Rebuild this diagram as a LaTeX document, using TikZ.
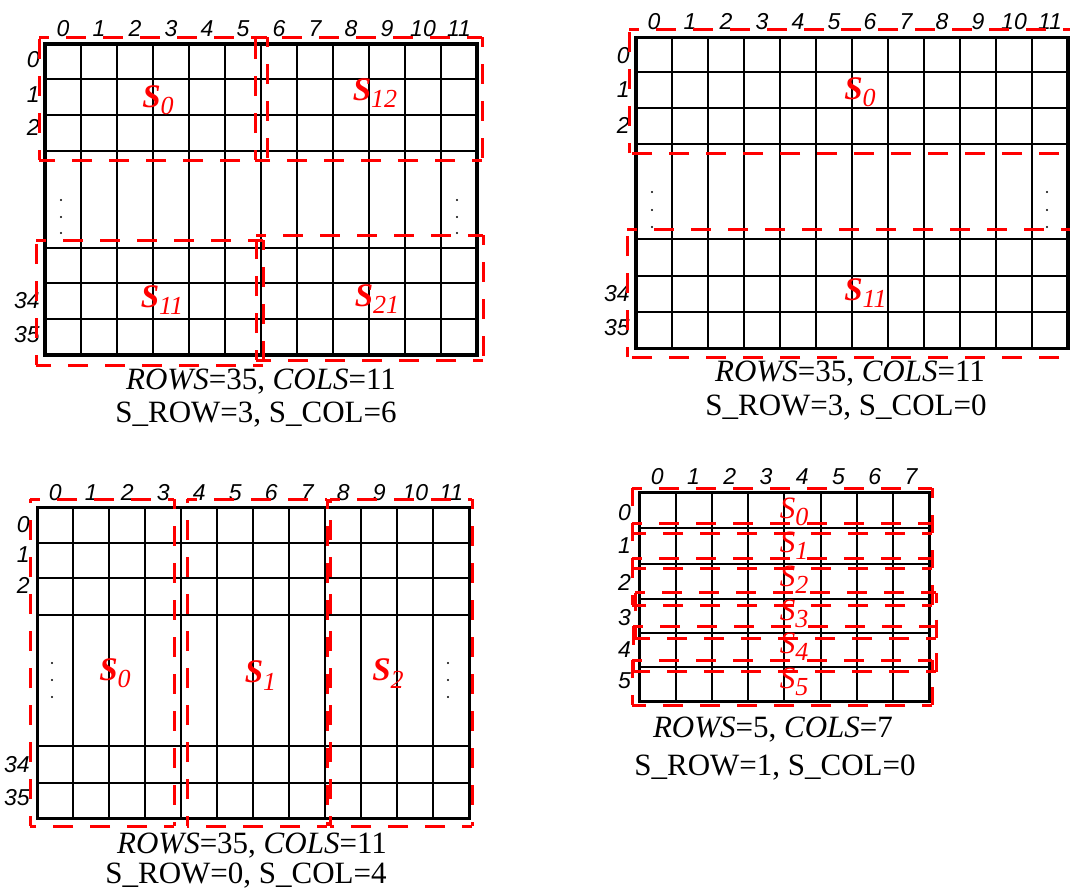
\documentclass[tikz,border=0pt]{standalone}
\usepackage{fontspec}
\setmainfont{Liberation Serif}
\newfontfamily\axisfont{Liberation Sans}
% block names: bold S (upper panels) and plain S (last panel)
\newcommand{\blkb}[1]{\textbf{\textit{S}}\raisebox{-3.8pt}{\fontsize{13}{13}\selectfont\textit{#1}}}
\newcommand{\blkr}[1]{\textit{S}\raisebox{-3.6pt}{\fontsize{13}{13}\selectfont\textit{#1}}}

\begin{document}
\begin{tikzpicture}[x=0.5pt, y=-0.5pt,
    cell/.style={line width=1pt},
    border/.style={line width=1.6pt},
    part/.style={red, line width=1.5pt, dash pattern=on 10pt off 8.5pt, dash phase=5pt},
    idx/.style={font=\fontsize{11.5}{11.5}\selectfont\axisfont\itshape, inner sep=0pt, anchor=base},
    rowidx/.style={idx, anchor=base east},
    blk/.style={red, inner sep=0pt, anchor=base, font=\fontsize{16.5}{16.5}\selectfont},
    captext/.style={inner sep=0pt, anchor=base, font=\fontsize{15.5}{15.5}\selectfont}]
    \useasboundingbox (0,0) rectangle (1070,889);
    \clip (0,0) rectangle (1070,889);

    % S_ROW=3, S_COL=6
    \begin{scope}[shift={(45,44)}]
        \foreach \c in {0,...,12}
            \draw[cell] (\c*36,0) -- (\c*36,311);
        \foreach \r in {35,71,107,204,239,275}
            \draw[cell] (0,\r) -- (432,\r);
        \draw[border] (0,0) rectangle (432,311);
        \foreach \c in {0,...,11}
            \node[idx] (ca\c) at (\c*36+18,-8) {\c};
        \foreach \n/\y in {0/23, 1/58, 2/91, 34/264, 35/298}
            \node[rowidx] (ra\n) at (-5,\y) {\n};
        \foreach \y in {156,173,189} {
            \fill (16,\y) circle (0.6pt);
            \fill (412,\y) circle (0.6pt);
        }
        \foreach \a/\b/\c/\d in {-6/-7/222/116, 210/-7/437/116, -9/196/218/321, 211/191/438/316}
            \draw[part] (\a,\b) -- (\c,\b) (\c,\b) -- (\c,\d) (\c,\d) -- (\a,\d) (\a,\d) -- (\a,\b);
        \node[blk] (sa0) at (113,63) {\blkb{0}};
        \node[blk] (sa12) at (330,56) {\blkb{12}};
        \node[blk] (sa11) at (117,263) {\blkb{11}};
        \node[blk] (sa21) at (332,262) {\blkb{21}};
        \node[captext] (capa) at (216,345) {\textit{ROWS}=35, \textit{COLS}=11};
        \node[captext] (capb) at (211,378) {S\_ROW=3, S\_COL=6};
    \end{scope}

    % S_ROW=3, S_COL=0
    \begin{scope}[shift={(636,37.7)}]
        \foreach \c in {0,...,12}
            \draw[cell] (\c*36,0) -- (\c*36,310.6);
        \foreach \r in {34,70,106.3,201.6,238.3,274.3}
            \draw[cell] (0,\r) -- (432,\r);
        \draw[border] (0,0) rectangle (432,310.6);
        \foreach \c in {0,...,11}
            \node[idx] (cb\c) at (\c*36+18,-8.7) {\c};
        \foreach \n/\y in {0/25.3, 1/59.3, 2/95.3, 34/263.3, 35/297.3}
            \node[rowidx] (rb\n) at (-6,\y) {\n};
        \foreach \y in {154.3,172.3,189.3} {
            \fill (16,\y) circle (0.6pt);
            \fill (411,\y) circle (0.6pt);
        }
        \foreach \a/\b/\c/\d in {-7/-8.7/450/115.3, -9/191.3/450/319.3}
            \draw[part] (\a,\b) -- (\c,\b) (\c,\b) -- (\c,\d) (\c,\d) -- (\a,\d) (\a,\d) -- (\a,\b);
        \node[blk] (sb0) at (224,61.3) {\blkb{0}};
        \node[blk] (sb11) at (229.5,262.3) {\blkb{11}};
        \node[captext] (capc) at (214,343.3) {\textit{ROWS}=35, \textit{COLS}=11};
        \node[captext] (capd) at (210,377.3) {S\_ROW=3, S\_COL=0};
    \end{scope}

    % S_ROW=0, S_COL=4
    \begin{scope}[shift={(37.3,507.7)}]
        \foreach \c in {0,...,12}
            \draw[cell] (\c*36,0) -- (\c*36,310.6);
        \foreach \r in {35,70,107.3,238.3,275}
            \draw[cell] (0,\r) -- (432,\r);
        \draw[border] (0,0) rectangle (432,310.6);
        \foreach \c in {0,...,11}
            \node[idx] (cc\c) at (\c*36+18,-7.7) {\c};
        \foreach \n/\y in {0/24.3, 1/54.3, 2/85.3, 34/264.3, 35/297.3}
            \node[rowidx] (rc\n) at (-7.3,\y) {\n};
        \foreach \y in {155.3,172.3,189.3} {
            \fill (14.7,\y) circle (0.6pt);
            \fill (410.7,\y) circle (0.6pt);
        }
        \foreach \a/\b/\c/\d in {-7.3/-8.7/136.7/318.3, 149.7/-8.7/289.7/318.3, 292.7/-8.7/434.7/318.3}
            \draw[part] (\a,\b) -- (\c,\b) (\c,\b) -- (\c,\d) (\c,\d) -- (\a,\d) (\a,\d) -- (\a,\b);
        \node[blk] (sc0) at (77.7,172.3) {\blkb{0}};
        \node[blk] (sc1) at (223.2,175) {\blkb{1}};
        \node[blk] (sc2) at (350.7,173) {\blkb{2}};
        \node[captext] (cape) at (214.7,345.3) {\textit{ROWS}=35, \textit{COLS}=11};
        \node[captext] (capf) at (208.7,375.3) {S\_ROW=0, S\_COL=4};
    \end{scope}

    % S_ROW=1, S_COL=0
    \begin{scope}[shift={(639.3,492.7)}]
        \foreach \c in {0,...,8}
            \draw[cell] (\c*36.25,0) -- (\c*36.25,209);
        \foreach \r in {35.6,71.3,106.6,140.6,174}
            \draw[cell] (0,\r) -- (290,\r);
        \draw[border] (0,0) rectangle (290,209);
        \foreach \c in {0,...,7}
            \node[idx] (cd\c) at (\c*36.25+18,-8.7) {\c};
        \foreach \n/\y in {0/27.3, 1/60.3, 2/97.3, 3/132.3, 4/164.3, 5/195.3}
            \node[rowidx] (rd\n) at (-8,\y) {\n};
        \foreach \a/\b/\c/\d in {-7.3/-4.4/292.7/40.6, -7.3/30.6/292.7/75.6, -7.3/65.6/292.7/112.3,
                                 -4.3/100/296.7/145.6, -6.3/133.3/296.7/179, -7.3/167.3/292.7/212.3}
            \draw[part] (\a,\b) -- (\c,\b) (\c,\b) -- (\c,\d) (\c,\d) -- (\a,\d) (\a,\d) -- (\a,\b);
        \foreach \n/\y in {0/25.3, 1/60, 2/94, 3/127.3, 4/160.6, 5/195.3}
            \node[blk, font=\fontsize{15.5}{15.5}\selectfont] (sd\n) at (154.7,\y) {\blkr{\n}};
        \node[captext] (capg) at (133.7,244.3) {\textit{ROWS}=5, \textit{COLS}=7};
        \node[captext] (caph) at (135.7,282.3) {S\_ROW=1, S\_COL=0};
    \end{scope}
\end{tikzpicture}
\end{document}
